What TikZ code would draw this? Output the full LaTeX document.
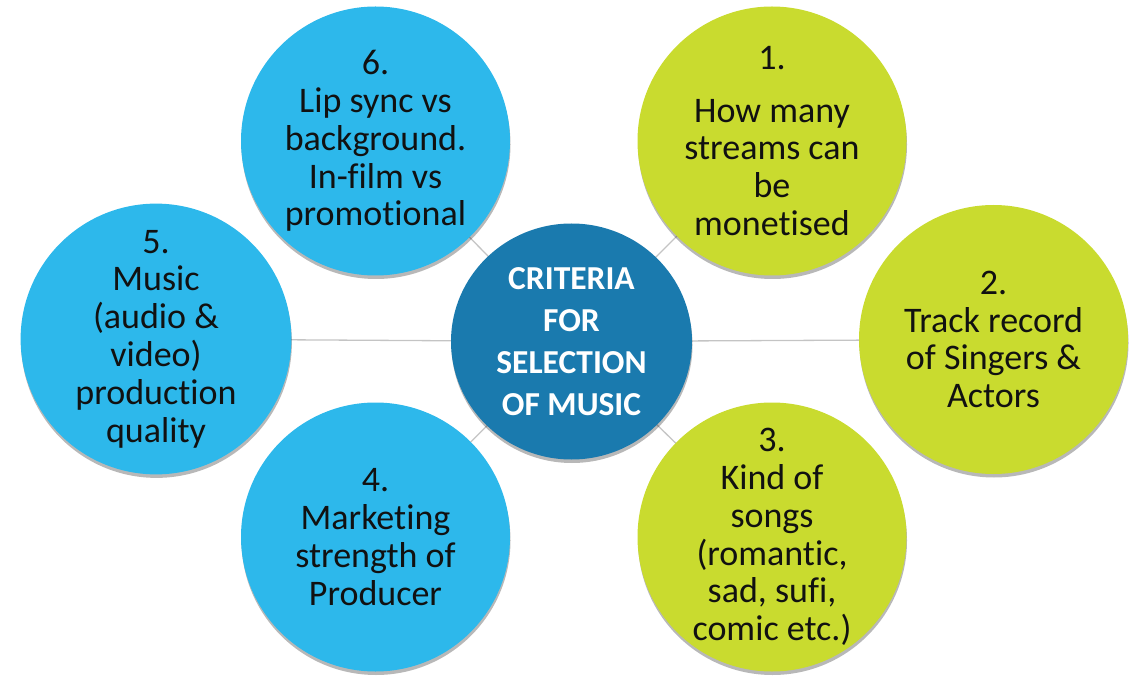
\documentclass[tikz,border=0pt]{standalone}
\usepackage{fontspec}
\setmainfont{Carlito}[Ligatures=CommonOff]
\usetikzlibrary{shapes.geometric,shadows}
\definecolor{cblue}{RGB}{45,184,235}
\definecolor{cgreen}{RGB}{201,219,47}
\definecolor{cdark}{RGB}{26,122,174}
\definecolor{ctext}{RGB}{17,17,17}
\definecolor{cline}{RGB}{196,196,196}
\tikzset{
  softshadow/.style={drop shadow={shadow xshift=0.5pt, shadow yshift=-3.5pt, opacity=0.28, fill=black}},
  bubble/.style={circle, inner sep=0pt, minimum size=269pt,
    align=center, text=ctext, font=\fontsize{36}{37.8}\selectfont, softshadow},
  bluebub/.style={bubble, fill=cblue},
  greenbub/.style={bubble, fill=cgreen},
  hub/.style={ellipse, inner sep=0pt, minimum width=241pt, minimum height=236pt,
    fill=cdark, align=center, text=white, font=\fontsize{33.5}{42}\selectfont\bfseries, softshadow},
  link/.style={draw=cline, line width=1.3pt}
}
\begin{document}
\begin{tikzpicture}[x=1pt,y=-1pt]
\useasboundingbox (0,0) rectangle (1138,676);
\coordinate (cc) at (571.5,341.5);
\coordinate (p1) at (772,141);
\coordinate (p2) at (993.5,339.5);
\coordinate (p3) at (772,537);
\coordinate (p4) at (375.5,537);
\coordinate (p5) at (156,339);
\coordinate (p6) at (375.5,141);
\foreach \p in {p1,p2,p3,p4,p5,p6} \draw[link] (cc) -- (\p);
\node[greenbub] (o1) at (p1) {1.\\[15pt]How many\\streams can\\be\\monetised};
\node[greenbub] (o2) at (p2) {2.\\Track record\\of Singers \&\\Actors};
\node[greenbub] (o3) at (p3) {3.\\Kind of\\songs\\(romantic,\\sad, sufi,\\comic etc.)};
\node[bluebub] (o4) at (p4) {4.\\Marketing\\strength of\\Producer};
\node[bluebub] (o5) at (p5) {5.\\Music\\(audio \&\\video)\\production\\quality};
\node[bluebub] (o6) at (p6) {6.\\Lip sync vs\\background.\\In-film vs\\promotional};
\node[hub] (c) at (cc) {CRITERIA\\FOR\\SELECTION\\OF MUSIC};
\end{tikzpicture}
\end{document}
